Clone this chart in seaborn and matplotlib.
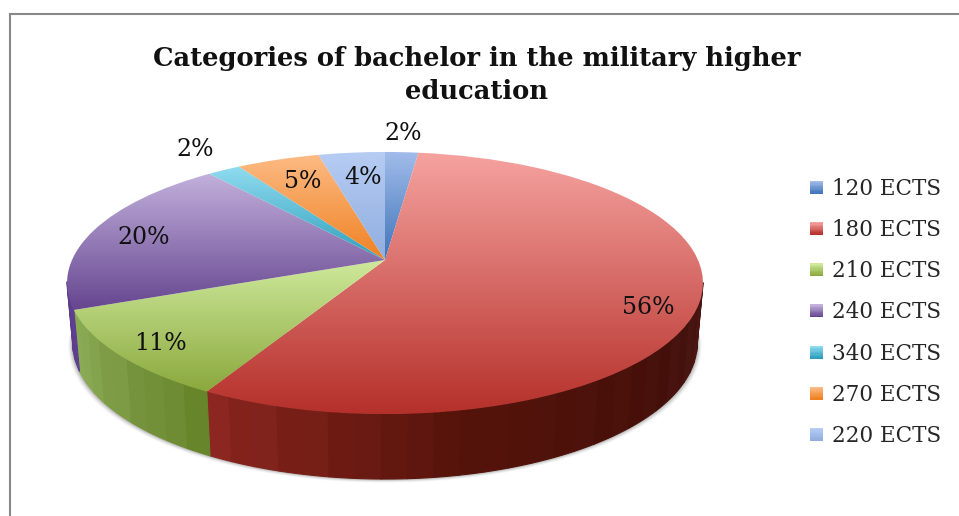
import numpy as np
import matplotlib
matplotlib.use("Agg")
import matplotlib.pyplot as plt
from matplotlib.legend_handler import HandlerBase
from matplotlib.patches import Polygon, Rectangle
from matplotlib.transforms import Transform
import seaborn as sns

# Chart content
TITLE = "Categories of bachelor in the military higher\neducation"
CATEGORIES = ["120 ECTS", "180 ECTS", "210 ECTS", "240 ECTS", "340 ECTS", "270 ECTS", "220 ECTS"]
SHARES = [2, 56, 11, 20, 2, 5, 4]

# Slice styling: top-face gradient ends and side-wall tones (left to right)
FACE_LIGHT = ["#a3bdeb", "#f6a3a0", "#cfe99c", "#c3b1dc", "#92dcf0", "#fdbb85", "#b7cdf4"]
FACE_DARK = ["#3f73b8", "#b5302a", "#8aa83c", "#65458f", "#2e9fbc", "#ef8122", "#8fadde"]
WALL_TONES = [
    ["#2f5a94", "#2f5a94"],
    ["#8c2620", "#55130a", "#45100a", "#4c1a18", "#4c1a18", "#4c1a18"],
    ["#8fae5a", "#66842a"],
    ["#5d3d8e", "#5d3d8e"],
    ["#247f96", "#247f96"],
    ["#c0661a", "#c0661a"],
    ["#7590c0", "#7590c0"],
]
# Label anchors in figure pixels
LABEL_XY = [(403, 134), (648, 307), (160, 343), (144, 238), (195, 150), (303, 182), (363, 178)]

# Pie geometry in figure pixels
CX, CY = 385.0, 260.0
RX, RY, TILT = 313.0, 127.0, 0.1756
WALL_SHRINK, WALL_DEPTH, WALL_SWELL = 0.982, 59.0, 6.0

sns.set_theme(style="white")
plt.rcParams["font.family"] = ["DejaVu Serif"]
edge_palette = sns.color_palette(FACE_DARK)


class TiltedDisc(Transform):
    """Projects the unit disc of a pie onto a receding plane, in figure pixels."""
    input_dims = output_dims = 2
    is_affine = False

    def transform_non_affine(self, values):
        values = np.asarray(values, dtype=float)
        u, v = values[:, 0], values[:, 1]
        w = 1 + TILT * v
        return np.column_stack([CX + RX * u / w, CY - RY * v / w])


class GradientKey:
    def __init__(self, top, bottom):
        self.top, self.bottom = top, bottom


class GradientKeyHandler(HandlerBase):
    def create_artists(self, legend, key, xd, yd, width, height, fontsize, trans):
        steps = 10
        c0 = np.array(matplotlib.colors.to_rgb(key.top))
        c1 = np.array(matplotlib.colors.to_rgb(key.bottom))
        artists = []
        for i in range(steps):
            t = i / (steps - 1)
            y = -yd + height * (1 - (i + 1) / steps)
            artists.append(Rectangle((-xd, y), width, height / steps, transform=trans,
                                     facecolor=c0 + (c1 - c0) * t, edgecolor="none", lw=0))
        return artists


fig = plt.figure(figsize=(9.59, 5.16), dpi=100)
ax = fig.add_axes([0, 0, 1, 1])

wedges, _ = ax.pie(SHARES, startangle=90, counterclock=False, radius=1.0, center=(0, 0),
                   wedgeprops=dict(linewidth=0))
ax.set_aspect("auto")
disc = TiltedDisc()


def rim(theta_deg):
    t = np.radians(theta_deg)
    return np.column_stack([np.cos(t), np.sin(t)])


def wall_foot(points, sin_part):
    foot = points.copy()
    foot[:, 0] = CX + (points[:, 0] - CX) * WALL_SHRINK
    foot[:, 1] = points[:, 1] + WALL_DEPTH + WALL_SWELL * np.clip(-sin_part, 0, 1)
    return foot


# Soft contact shadow under the lower rim
all_theta = np.linspace(185, 355, 171)
base = wall_foot(disc.transform(rim(all_theta)), np.sin(np.radians(all_theta)))
for grow, alpha in zip((4.5, 3.5, 2.5, 1.5), (0.05, 0.08, 0.12, 0.18)):
    shade = base.copy()
    shade[:, 1] += grow * 0.8
    shade[:, 0] = CX + (shade[:, 0] - CX) * (1 + grow / 320)
    ax.add_patch(Polygon(shade, closed=True, facecolor="#555555", edgecolor="none",
                         alpha=alpha, zorder=1))

# Side walls: vertical bands following the lower half of the rim, drawn wide to avoid seams
for wedge, tones in zip(wedges, WALL_TONES):
    th1, th2 = wedge.theta1, wedge.theta2
    n = max(2, int((th2 - th1) / 4.0))
    edges = np.linspace(th1, th2, n + 1)
    rgb = np.array([matplotlib.colors.to_rgb(c) for c in tones])
    for a, b in zip(edges[:-1], edges[1:]):
        mid = (a + b) / 2
        if np.sin(np.radians(mid)) > -0.18:
            continue
        pos = (mid - th1) / max(th2 - th1, 1e-6)
        col = [np.interp(pos, np.linspace(0, 1, len(rgb)), rgb[:, k]) for k in range(3)]
        col = np.clip(np.array(col) + 0.006 * np.sin(mid * 2.3), 0, 1)
        ang = np.linspace(a, b, 5)
        top = disc.transform(rim(ang))
        foot = wall_foot(top, np.sin(np.radians(ang)))
        ax.add_patch(Polygon(np.vstack([top, foot[::-1]]), closed=True, facecolor=col,
                             edgecolor=col, lw=0.8, joinstyle="round", zorder=2))

# Top faces: each wedge is projected and clips its own vertical gradient
for wedge, light, dark in zip(wedges, FACE_LIGHT, FACE_DARK):
    wedge.set_transform(disc + ax.transData)
    wedge.set_facecolor("none")
    wedge.set_zorder(3)
    pts = np.vstack([disc.transform(rim(np.linspace(wedge.theta1, wedge.theta2, 90))), [[CX, CY]]])
    x0, x1, y0, y1 = pts[:, 0].min(), pts[:, 0].max(), pts[:, 1].min(), pts[:, 1].max()
    c0, c1 = np.array(matplotlib.colors.to_rgb(light)), np.array(matplotlib.colors.to_rgb(dark))
    ramp = np.linspace(0, 1, 128)[:, None, None]
    im = ax.imshow(c0[None, None, :] + (c1 - c0)[None, None, :] * ramp,
                   extent=(x0 - 1, x1 + 1, y1 + 1, y0 - 1), aspect="auto", zorder=3,
                   interpolation="bilinear")
    im.set_clip_path(wedge)

# Percentage labels
for share, (x, y) in zip(SHARES, LABEL_XY):
    ax.text(x, y, f"{share}%", ha="center", va="center", fontsize=17, color="#111111", zorder=5)

ax.text(476.5, 75, TITLE, ha="center", va="center", fontsize=18.5, fontweight="bold",
        color="#111111", linespacing=1.38, zorder=5)

# Chart frame, open towards the right and bottom of the figure
ax.plot([9.5, 9.5, 959], [516, 14, 14], color="#888888", lw=1.5, solid_joinstyle="miter", zorder=1)

keys = [GradientKey(t, b) for t, b in zip(FACE_LIGHT, edge_palette)]
ax.legend(keys, CATEGORIES, handler_map={GradientKey: GradientKeyHandler()},
          loc="upper left", bbox_to_anchor=(809.5, 178), bbox_transform=ax.transData,
          frameon=False, fontsize=15.5, handlelength=0.65, handleheight=0.55,
          handletextpad=0.38, labelspacing=0.89, borderpad=0, borderaxespad=0)

ax.set_xlim(0, 959)
ax.set_ylim(516, 0)
ax.axis("off")
fig.savefig("out.png", dpi=100, facecolor="white")
